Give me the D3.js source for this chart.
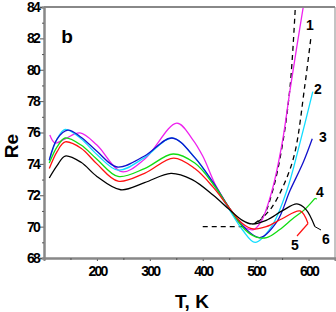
<!DOCTYPE html>
<html>
<head>
<meta charset="utf-8">
<script src="https://cdn.jsdelivr.net/npm/d3@7"></script>
<style>
  body { margin: 0; background: #fff; }
  text { font-family: "Liberation Sans", Arial, sans-serif; font-weight: bold; }
</style>
</head>
<body>
<div id="chart"></div>
<script>
// Data: [T (K), Re]
const magenta = [[111, 75.84], [121, 75.33], [140, 75.6], [168, 75.97], [200, 75.2], [247, 73.5], [290, 74.3], [351, 76.6], [380, 75.6], [400, 74.5], [425, 72.6], [450, 71.2], [470, 70.2], [495, 69.8], [510, 70.3], [531, 72.3], [550, 75.3], [565, 78.7], [578, 81.5], [590, 84], [600, 86]];
const cyan = [[110, 74.2], [125, 75.6], [140, 76.2], [170, 75.6], [200, 74.6], [240, 73.6], [290, 74.4], [342, 75.65], [385, 74.4], [420, 72.7], [450, 71.1], [475, 69.8], [499, 69.0], [530, 70.0], [559, 72.3], [585, 75.5], [608, 78.6]];
const blue = [[110, 74.25], [125, 75.6], [145, 76.15], [170, 75.7], [200, 74.8], [238, 73.8], [290, 74.5], [342, 75.65], [385, 74.4], [420, 72.8], [450, 71.2], [480, 69.9], [508, 69.3], [540, 70.3], [565, 72.3], [590, 74.1], [607, 75.6]];
const green = [[110, 74.05], [125, 75.1], [140, 75.65], [170, 75.2], [200, 74.3], [240, 73.2], [290, 73.7], [344, 74.63], [385, 74.05], [420, 72.7], [450, 71.2], [480, 69.8], [500, 69.35], [521, 69.3], [545, 69.8], [570, 70.5], [593, 71.1], [612, 71.8]];
const red = [[110, 73.7], [125, 74.8], [140, 75.4], [170, 75.0], [200, 74.0], [240, 72.9], [290, 73.4], [345, 74.37], [385, 73.7], [420, 72.5], [450, 71.2], [475, 70.2], [495, 69.85], [520, 70.0], [550, 70.5], [584, 71.0], [599, 70.2]];
const black = [[110, 73.1], [125, 73.9], [140, 74.5], [170, 74.1], [200, 73.2], [245, 72.35], [290, 72.8], [340, 73.4], [380, 73.0], [420, 72.0], [450, 71.1], [475, 70.4], [493, 70.17], [520, 70.4], [550, 71.0], [578, 71.45], [595, 71.1], [612, 70.0]];
const dashH = [[400, 70.0], [482, 70.0]];
const dashLeft = [[498, 70.2], [515, 70.7], [533, 72.4], [550, 75.1], [565, 78.9], [575, 84]];
const dashRight = [[505, 70.3], [530, 71.2], [555, 72.8], [574, 74.7], [593, 79.0], [605, 82.2]];

const series = [
  { pts: magenta, color: "#ee22ee" },
  { pts: cyan, color: "#11ddff" },
  { pts: blue, color: "#1111cc" },
  { pts: green, color: "#11dd11" },
  { pts: red, color: "#ff1111" },
  { pts: black, color: "#000000" }
];
const labels = [
  { t: "1", x: 310, y: 25 }, { t: "2", x: 318, y: 89 }, { t: "3", x: 323, y: 137 },
  { t: "4", x: 320, y: 192 }, { t: "5", x: 295, y: 245 }, { t: "6", x: 326, y: 239 }
];
const xTicks = [200, 300, 400, 500, 600];
const yTicks = [68, 70, 72, 74, 76, 78, 80, 82, 84];

const width = 336, height = 312;
const margin = { top: 7, right: 1, bottom: 54, left: 44 };

const svg = d3.select("#chart").append("svg")
  .attr("width", width).attr("height", height);

const x = d3.scaleLinear().domain([100, 650]).range([margin.left, 335]);
const y = d3.scaleLinear().domain([68, 84]).range([258, margin.top]);

svg.append("clipPath").attr("id", "clip")
  .append("rect").attr("x", margin.left).attr("y", margin.top)
  .attr("width", 335 - margin.left).attr("height", 258 - margin.top);

const line = d3.line().x(d => x(d[0])).y(d => y(d[1])).curve(d3.curveCatmullRom.alpha(0.5));
const plot = svg.append("g").attr("clip-path", "url(#clip)");

// dashed guides
[dashH, dashLeft, dashRight].forEach(p => {
  plot.append("path").attr("d", line(p))
    .attr("fill", "none").attr("stroke", "#000").attr("stroke-width", 1.3)
    .attr("stroke-dasharray", "5,4");
});

series.forEach(s => {
  plot.append("path").attr("d", line(s.pts))
    .attr("fill", "none").attr("stroke", s.color).attr("stroke-width", 1.3);
});

// leader lines
svg.append("line").attr("x1", 297).attr("y1", 236).attr("x2", x(599)).attr("y2", y(70.2))
  .attr("stroke", "#ff1111").attr("stroke-width", 1.2);
svg.append("line").attr("x1", x(612)).attr("y1", y(70.0)).attr("x2", 321).attr("y2", 230)
  .attr("stroke", "#000").attr("stroke-width", 1);
svg.append("line").attr("x1", x(612)).attr("y1", y(71.8)).attr("x2", 317).attr("y2", 199)
  .attr("stroke", "#11dd11").attr("stroke-width", 1.2);

// axes
svg.append("g").attr("transform", "translate(0,258)")
  .call(d3.axisBottom(x).tickValues(xTicks).tickSize(3).tickPadding(5));
svg.append("g").attr("transform", "translate(0,258)")
  .call(d3.axisBottom(x).tickValues(d3.range(150, 650, 100)).tickSize(2).tickFormat(""));
svg.append("g").attr("transform", `translate(${margin.left},0)`)
  .call(d3.axisLeft(y).tickValues(yTicks).tickSize(4).tickPadding(1));
svg.append("g").attr("transform", `translate(${margin.left},0)`)
  .call(d3.axisLeft(y).tickValues(d3.range(69, 84, 2)).tickSize(2).tickFormat(""));

svg.selectAll(".domain").attr("stroke", "#888").attr("stroke-width", 2);
svg.selectAll(".tick line").attr("stroke", "#555");
svg.selectAll(".tick text").attr("font-size", 14).attr("fill", "#000")
  .attr("letter-spacing", "-1.8px");

svg.append("line").attr("x1", margin.left).attr("x2", 335).attr("y1", margin.top).attr("y2", margin.top)
  .attr("stroke", "#888").attr("stroke-width", 2);
svg.append("line").attr("x1", 335).attr("x2", 335).attr("y1", margin.top).attr("y2", 258)
  .attr("stroke", "#888").attr("stroke-width", 1);

// curve numbers
svg.selectAll(".num").data(labels).enter().append("text")
  .attr("x", d => d.x).attr("y", d => d.y)
  .attr("text-anchor", "middle").attr("dominant-baseline", "central")
  .attr("font-size", 14).text(d => d.t);

svg.append("text").attr("x", 67).attr("y", 36).attr("text-anchor", "middle")
  .attr("dominant-baseline", "central").attr("font-size", 19).text("b");
svg.append("text").attr("transform", "translate(11,146) rotate(-90)")
  .attr("text-anchor", "middle").attr("dominant-baseline", "central")
  .attr("font-size", 19).text("Re");
svg.append("text").attr("x", 192).attr("y", 301).attr("text-anchor", "middle")
  .attr("dominant-baseline", "central").attr("font-size", 19).text("T, K");
</script>
</body>
</html>
